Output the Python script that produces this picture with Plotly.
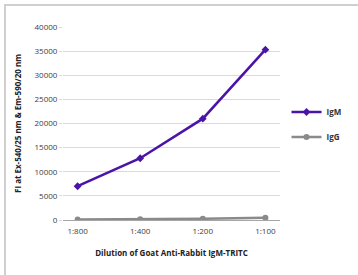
import plotly.graph_objects as go

categories = ["1:800", "1:400", "1:200", "1:100"]
igm = [7000, 12800, 21000, 35300]
igg = [100, 150, 250, 450]
y_ticks = [0, 5000, 10000, 15000, 20000, 25000, 30000, 35000, 40000]
y_tick_labels = [str(v) for v in y_ticks]

FONT = "Open Sans"
legend_font = dict(family=FONT, size=8, color="#333333", weight="bold")

fig = go.Figure()
fig.add_trace(go.Scatter(x=categories, y=igm, name="IgM", mode="lines+markers",
                         line=dict(color="#4a14a8", width=2.5),
                         marker=dict(symbol="diamond", size=6, color="#4a14a8"),
                         legend="legend"))
fig.add_trace(go.Scatter(x=categories, y=igg, name="IgG", mode="lines+markers",
                         line=dict(color="#8a8a8a", width=2.5),
                         marker=dict(symbol="circle", size=6, color="#8a8a8a"),
                         legend="legend2"))

fig.update_layout(
    width=358, height=275,
    margin=dict(l=63, r=55, t=27, b=55),
    paper_bgcolor="white", plot_bgcolor="white",
    font=dict(family=FONT, size=8, color="#404040"),
    showlegend=True,
    legend=dict(x=1.03, y=(220 - 112) / 193, xanchor="left", yanchor="middle",
                font=legend_font, itemwidth=30, bgcolor="rgba(0,0,0,0)"),
    legend2=dict(x=1.03, y=(220 - 137) / 193, xanchor="left", yanchor="middle",
                 font=legend_font, itemwidth=30, bgcolor="rgba(0,0,0,0)"),
    xaxis=dict(type="category", automargin=False, showgrid=False, showline=True,
               linecolor="#a6a6a6", linewidth=1, ticks="", ticklabelstandoff=3,
               tickfont=dict(size=8, color="#404040"),
               title=dict(text="Dilution of Goat Anti-Rabbit IgM-TRITC",
                          font=dict(size=8, color="#222222", weight="bold"), standoff=15)),
    yaxis=dict(range=[0, 40000], automargin=False, tickvals=y_ticks, ticktext=y_tick_labels,
               showgrid=True, gridcolor="#d9d9d9",
               gridwidth=1, zeroline=False, showline=False, ticks="outside",
               ticklen=3, tickcolor="#d9d9d9", tickfont=dict(size=8, color="#404040"),
               title=dict(text="FI at Ex-540/25 nm & Em-590/20 nm",
                          font=dict(size=8, color="#222222", weight="bold"), standoff=11)),
)

frame_js = (
    "document.body.style.margin='0';document.body.style.overflow='hidden';"
    "var f=document.createElement('div');"
    "f.style.cssText='position:absolute;left:4px;top:4px;width:360px;height:280px;"
    "border-top:2px solid #cfcfcf;border-left:2px solid #cfcfcf;pointer-events:none;';"
    "document.body.appendChild(f);"
)

fig.write_html("out.html", config={"displayModeBar": False}, post_script=frame_js)
